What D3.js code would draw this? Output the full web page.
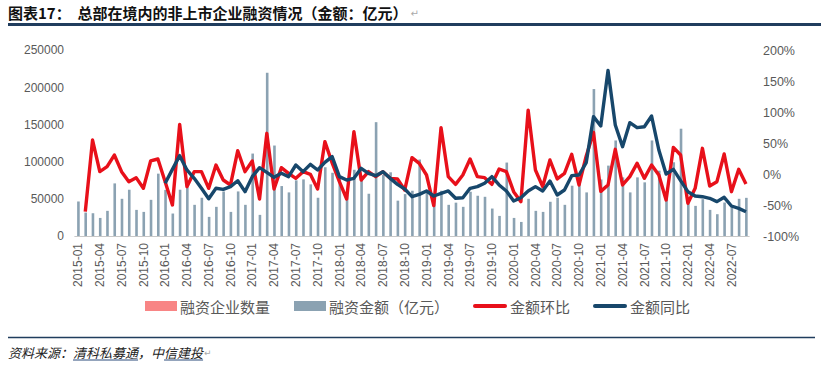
<!DOCTYPE html>
<html>
<head>
<meta charset="utf-8">
<script src="https://cdn.jsdelivr.net/npm/d3@7"></script>
<style>
  html, body { margin: 0; padding: 0; background: #fff; }
  svg { display: block; }
  .tick-label { font-family: "Liberation Sans", Arial, sans-serif; font-size: 12px; fill: #595959; }
  .cjk { font-family: "Noto Sans CJK SC", sans-serif; }
</style>
</head>
<body>
<svg id="chart" width="821" height="366"></svg>
<script>
// Data
const startMonth = new Date(2015, 0, 1);
const endMonth = new Date(2022, 9, 1);   // exclusive -> last is 2022-09
const months = d3.timeMonth.range(startMonth, endMonth).map(d3.timeFormat("%Y-%m"));

// 融资金额（亿元）
const amount = [
  46400, 31500, 30600, 24300, 33800, 70700, 50000, 62200, 35100, 32400, 48600, 83800,
  62000, 30200, 62200, 65300, 41900, 51400, 25700, 39200, 59900, 32400, 59900, 41900,
  110800, 28400, 219400, 121600, 67100, 58600, 74800, 76100, 69400, 51400, 92400, 85000,
  78800, 55000, 89000, 81100, 56800, 153000, 82200, 85600, 47500, 56300, 60800, 102800,
  60800, 47300, 60800, 41900, 44800, 39200, 59500, 54100, 52700, 36900, 27000, 98700,
  24300, 18900, 50000, 33800, 32400, 46000, 51400, 41900, 67600, 72000, 58600, 197500,
  76000, 94600, 128400, 78800, 58600, 78800, 72100, 128400, 87800, 51800, 99100, 144200,
  49500, 40500, 49500, 35100, 29300, 45000, 40500, 50000, 51300
];

// 金额环比 (%)
const momPct = [
  null, -60.8, 54.8, 3.8, 11.8, 30.6, 3.8, -12.4, -5.9, -23.1, 21, 24.2,
  -12.4, -50, 80.1, -20.4, 3.8, 3.8, -23.1, 14.5, -9.7, -17.7, 37.6, 3.8,
  21, -40.3, 65.6, -24.2, 10.2, 1.1, -7, 3.8, -0.5, -24.2, 52.2, 18,
  -12.4, -40.3, 68.3, -9.7, 3.8, -4.3, 3.8, -7, -8, -25.8, 26.3, 17.2,
  -1.6, -51, 74.7, -4.3, -16.7, -1.6, 24.2, -4.3, -5.9, -16.7, 8.1, 3.8,
  -28.5, -44.6, 103, 6.5, -20.4, 22.6, -8, 1.1, 31.7, -17.7, 29, 67,
  -28, -17.7, 39.8, -17.7, -4.3, 17.2, -7, 14.5, -1.6, -41.9, 43, 30.6,
  -47.3, -23.1, 41.4, -19.4, -12.4, 32.3, -28.5, 7.5, -16.1
];

// 金额同比 (%)
const yoyPct = [
  null, null, null, null, null, null, null, null, null, null, null, null,
  -15, 7.5, 29.6, 6.5, -7, -23, -40, -23, -24.7, -20.4, -10.8, -28.5,
  -4.3, 10.2, 2.7, -5.4, 1.1, -4.3, 14.5, 3.8, 15.6, 6.5, 18.8, 28,
  -4.3, -9.7, -7, 9.1, 1.1, -2.7, 3.8, -7, -16.7, -24.2, -36.6, -32.8,
  -27.4, -35.5, -31.2, -27.4, -39.2, -38.2, -23.1, -20.4, -15, -4.3, -17.7, -27.4,
  -43.5, -38.2, -27.4, -20.4, -27.4, -11.3, -33.9, -25.8, -2.7, -1.6, 18.5, 92.5,
  77.5, 167, 79, 44.1, 82.8, 74.7, 76.3, 93.5, 38.7, 0, 7.5, -10.8,
  -28.5, -35.5, -36.6, -39.2, -44.6, -37.6, -51.6, -55.4, -60.8
];

const leftTicks = [0, 50000, 100000, 150000, 200000, 250000];
const rightTicks = [-100, -50, 0, 50, 100, 150, 200];

const legendItems = [
  { name: "融资企业数量", type: "rect", color: "#f88585" },
  { name: "融资金额（亿元）", type: "rect", color: "#8ba2b2" },
  { name: "金额环比", type: "line", color: "#e8101a" },
  { name: "金额同比", type: "line", color: "#17476b" }
];

const svg = d3.select("#chart");
const W = 821, H = 366;
svg.append("rect").attr("width", W).attr("height", H).attr("fill", "#fff");

// Title
const title = svg.append("text")
  .attr("class", "cjk")
  .attr("x", 8).attr("y", 12.5)
  .attr("dominant-baseline", "central")
  .attr("font-size", 15).attr("font-weight", "bold").attr("fill", "#111")
  .attr("xml:space", "preserve")
  .text("图表17：  总部在境内的非上市企业融资情况（金额：亿元）");
const tw = title.node().getComputedTextLength();
svg.append("text")
  .attr("x", 8 + tw + 3).attr("y", 13)
  .attr("dominant-baseline", "central")
  .attr("font-family", "DejaVu Sans").attr("font-size", 10).attr("fill", "#aaa")
  .text("↵");

svg.append("line")
  .attr("x1", 8).attr("x2", W).attr("y1", 24.5).attr("y2", 24.5)
  .attr("stroke", "#203d5e").attr("stroke-width", 3);

// Scales
const x = d3.scaleBand().domain(months).range([74.4, 749.6]);
const cx = m => x(m) + x.bandwidth() / 2;
const yL = d3.scaleLinear().domain([0, 250000]).range([236, 50]);
const yR = d3.scaleLinear().domain([-100, 200]).range([236, 50]);

const g = svg.append("g");

// Left axis
const axL = g.append("g")
  .attr("transform", "translate(67,0)")
  .call(d3.axisLeft(yL).tickValues(leftTicks).tickSize(0).tickPadding(3).tickFormat(d3.format("d")));
axL.select(".domain").remove();
axL.selectAll("text").attr("class", "tick-label").attr("font-family", null).attr("font-size", null);

// Right axis
const axR = g.append("g")
  .attr("transform", "translate(760,0)")
  .call(d3.axisRight(yR).tickValues(rightTicks).tickSize(0).tickPadding(3).tickFormat(d => d + "%"));
axR.select(".domain").remove();
axR.selectAll("text").attr("class", "tick-label").attr("font-family", null).attr("font-size", null)
  .style("font-size", "12.5px");

// Bars
g.append("g")
  .selectAll("rect")
  .data(amount)
  .join("rect")
  .attr("x", (d, i) => cx(months[i]) - 0.9)
  .attr("width", 2.6)
  .attr("y", d => yL(d))
  .attr("height", d => yL(0) - yL(d))
  .attr("fill", "#8ba2b2");

// X axis
const xTicks = months.filter((m, i) => i % 3 === 0);
const axX = g.append("g")
  .attr("transform", `translate(0,${yL(0)})`)
  .call(d3.axisBottom(x).tickValues(xTicks).tickSize(0).tickPadding(0));
axX.select(".domain").attr("stroke", "#c8c8c8").attr("d", "M74.4,0.5H749.6");
axX.selectAll("text")
  .attr("class", "tick-label").attr("font-family", null).attr("font-size", null)
  .attr("text-anchor", "end")
  .attr("transform", "rotate(-90)")
  .attr("x", -7).attr("y", 0).attr("dy", "0.35em");

// Lines
const line = scale => d3.line()
  .defined(d => d != null)
  .x((d, i) => cx(months[i]))
  .y(d => scale(d));

g.append("path")
  .datum(momPct)
  .attr("d", line(yR))
  .attr("fill", "none").attr("stroke", "#e8101a").attr("stroke-width", 3.4)
  .attr("stroke-linejoin", "round");

g.append("path")
  .datum(yoyPct)
  .attr("d", line(yR))
  .attr("fill", "none").attr("stroke", "#17476b").attr("stroke-width", 3.4)
  .attr("stroke-linejoin", "round");

// Legend
const legendX = [145, 294, 473, 593];
const lg = svg.append("g");
legendItems.forEach((it, k) => {
  const lx = legendX[k], ly = 306;
  if (it.type === "rect") {
    lg.append("rect").attr("x", lx).attr("y", ly - 5).attr("width", 32).attr("height", 10).attr("fill", it.color);
  } else {
    lg.append("line").attr("x1", lx + 2).attr("x2", lx + 32).attr("y1", ly).attr("y2", ly)
      .attr("stroke", it.color).attr("stroke-width", 4).attr("stroke-linecap", "round");
  }
  lg.append("text")
    .attr("class", "cjk")
    .attr("x", lx + (it.type === "rect" ? 35 : 37)).attr("y", ly)
    .attr("dominant-baseline", "central")
    .attr("font-size", 15).attr("fill", "#595959")
    .text(it.name);
});

// Footer
svg.append("line")
  .attr("x1", 8).attr("x2", 815).attr("y1", 337.5).attr("y2", 337.5)
  .attr("stroke", "#203d5e").attr("stroke-width", 1.5);

const src = svg.append("text")
  .attr("class", "cjk")
  .attr("x", 8).attr("y", 352)
  .attr("dominant-baseline", "central")
  .attr("font-size", 13).attr("font-style", "italic").attr("fill", "#222");
const parts = [
  { t: "资料来源：", u: false },
  { t: "清科私募通", u: true },
  { t: "，中", u: false },
  { t: "信建投", u: true }
];
parts.forEach(p => src.append("tspan").text(p.t));
let px = 8;
src.selectAll("tspan").each(function(d, i) {
  const w = this.getComputedTextLength();
  if (parts[i].u) {
    svg.append("line").attr("x1", px).attr("x2", px + w).attr("y1", 360).attr("y2", 360)
      .attr("stroke", "#2b4a7a").attr("stroke-width", 1);
  }
  px += w;
});
svg.append("text")
  .attr("x", px + 1).attr("y", 353)
  .attr("dominant-baseline", "central")
  .attr("font-family", "DejaVu Sans").attr("font-size", 9).attr("fill", "#aaa")
  .text("↵");
</script>
</body>
</html>
